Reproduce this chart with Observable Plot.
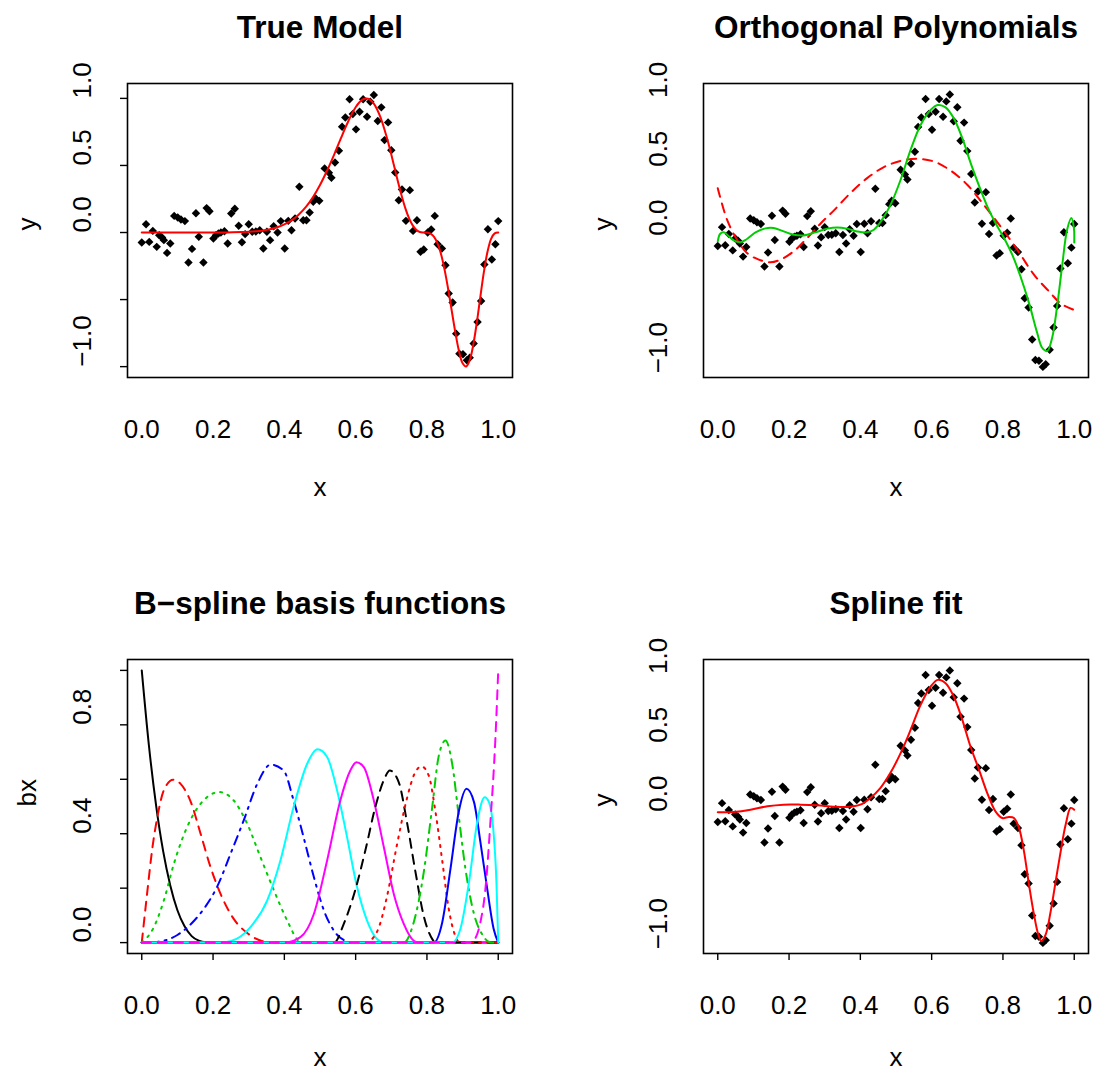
<!DOCTYPE html>
<html><head><meta charset="utf-8">
<script src="https://cdn.jsdelivr.net/npm/d3@7"></script>
<script src="https://cdn.jsdelivr.net/npm/@observablehq/plot@0.6"></script>
<style>
body{margin:0;background:#fff;}
#root{position:relative;width:1098px;height:1073px;overflow:hidden;background:#fff;}
.panel{position:absolute;}
</style></head><body><div id="root"></div>
<script>
// ---------- data ----------
const xPts = [0.000,0.012,0.021,0.031,0.042,0.049,0.057,0.062,0.071,0.080,0.091,0.101,0.110,0.121,0.131,0.141,0.152,0.160,0.173,0.182,0.190,0.201,0.208,0.215,0.222,0.232,0.241,0.251,0.261,0.272,0.281,0.290,0.300,0.310,0.320,0.331,0.341,0.351,0.360,0.370,0.381,0.390,0.401,0.411,0.420,0.430,0.442,0.453,0.462,0.471,0.481,0.488,0.498,
0.513,0.525,0.532,0.542,0.553,0.562,0.571,0.583,0.592,0.601,0.611,0.621,0.632,0.641,0.651,0.662,0.672,0.681,0.691,0.700,0.711,0.721,0.730,0.741,0.752,0.761,0.772,0.782,0.791,0.802,0.812,0.822,0.830,0.842,0.852,0.861,0.872,0.882,0.891,0.901,0.912,0.920,0.931,0.942,0.952,0.961,0.971,0.982,0.992,1.000];
const yPts = [-0.075,0.062,-0.070,0.012,-0.107,-0.020,-0.037,-0.057,-0.152,-0.082,0.124,0.112,0.097,0.085,-0.224,-0.122,0.144,-0.032,-0.224,0.182,0.159,-0.045,-0.020,-0.007,0.000,0.010,-0.082,0.142,0.177,0.050,-0.072,-0.012,0.062,0.005,0.007,0.017,-0.119,0.005,-0.057,0.047,0.000,0.085,-0.119,0.087,0.017,0.104,0.341,0.092,0.092,0.149,0.229,0.254,0.236,
0.478,0.445,0.408,0.522,0.609,0.789,0.858,0.993,0.883,0.769,0.900,0.993,0.863,0.975,1.025,0.831,0.933,0.689,0.821,0.614,0.448,0.241,0.321,0.087,0.316,0.012,0.092,-0.144,-0.127,0.000,0.022,0.124,-0.087,-0.119,-0.244,-0.455,-0.522,-0.754,-0.903,-0.908,-0.953,-0.933,-0.828,-0.667,-0.510,-0.239,0.025,-0.201,-0.087,0.085];

const trueX = [0,0.04,0.08,0.12,0.16,0.2,0.24,0.28,0.30,0.32,0.34,0.36,0.38,0.40,0.42,0.44,0.46,0.48,0.50,0.52,0.54,0.55,0.56,0.57,0.58,0.59,0.60,0.61,0.62,0.63,0.64,0.65,0.66,0.67,0.68,0.69,0.70,0.71,0.72,0.73,0.74,0.75,0.76,0.77,0.78,0.79,0.80,0.81,0.82,0.83,0.84,0.85,0.86,0.87,0.88,0.89,0.90,0.91,0.92,0.93,0.94,0.95,0.96,0.97,0.98,0.99,1.00];
const trueY = [0,0,0,0,0,0,0.001,0.003,0.005,0.009,0.015,0.024,0.039,0.060,0.090,0.133,0.189,0.262,0.354,0.462,0.583,0.648,0.711,0.774,0.833,0.888,0.934,0.969,0.992,1.000,0.991,0.964,0.919,0.856,0.776,0.684,0.581,0.473,0.365,0.265,0.176,0.105,0.053,0.020,0.004,0,0,-0.008,-0.032,-0.083,-0.166,-0.284,-0.429,-0.591,-0.750,-0.886,-0.975,-0.999,-0.952,-0.836,-0.669,-0.476,-0.290,-0.142,-0.047,-0.006,0];

const polyLowX = [0.0,0.026,0.054,0.082,0.115,0.148,0.176,0.213,0.251,0.288,0.326,0.372,0.419,0.466,0.513,0.559,0.606,0.653,0.700,0.746,0.793,0.840,0.887,0.933,0.962,1.0];
const polyLowY = [0.345,0.116,-0.029,-0.126,-0.174,-0.193,-0.174,-0.114,-0.017,0.087,0.184,0.309,0.418,0.498,0.543,0.558,0.539,0.473,0.370,0.225,0.067,-0.101,-0.283,-0.415,-0.493,-0.540];

const polyHighX = [0.0,0.007,0.017,0.031,0.045,0.064,0.082,0.106,0.134,0.157,0.185,0.213,0.241,0.274,0.307,0.335,0.363,0.391,0.419,0.438,0.461,0.485,0.513,0.541,0.569,0.597,0.617,0.639,0.662,0.686,0.709,0.733,0.756,0.779,0.803,0.826,0.849,0.873,0.896,0.910,0.924,0.938,0.952,0.966,0.980,0.992,0.999,1.0];
const polyHighY = [-0.041,0.014,0.024,-0.005,-0.034,-0.048,-0.024,0.024,0.053,0.055,0.031,0.007,0.002,0.024,0.051,0.060,0.051,0.031,0.024,0.043,0.116,0.225,0.406,0.623,0.804,0.913,0.949,0.932,0.853,0.708,0.531,0.362,0.213,0.092,-0.017,-0.138,-0.295,-0.488,-0.705,-0.814,-0.838,-0.742,-0.512,-0.222,0.043,0.128,0.056,-0.050];

const splineX = [0.0,0.045,0.092,0.139,0.185,0.232,0.279,0.325,0.363,0.400,0.428,0.456,0.484,0.513,0.541,0.569,0.597,0.617,0.639,0.662,0.686,0.709,0.733,0.756,0.779,0.798,0.817,0.831,0.845,0.859,0.873,0.887,0.899,0.908,0.920,0.934,0.948,0.962,0.976,0.990,1.0];
const splineY = [-0.005,-0.002,0.014,0.039,0.051,0.051,0.046,0.036,0.034,0.051,0.099,0.171,0.280,0.425,0.594,0.775,0.908,0.957,0.932,0.836,0.667,0.473,0.304,0.135,0.002,-0.046,-0.039,-0.046,-0.118,-0.288,-0.529,-0.746,-0.891,-0.940,-0.891,-0.722,-0.505,-0.288,-0.094,0.027,0.014];

// B-spline basis functions: [x, value] pairs
const basis1  = [[0,1],[0.02,0.725],[0.04,0.506],[0.06,0.336],[0.08,0.21],[0.10,0.119],[0.12,0.06],[0.14,0.024],[0.16,0.007],[0.18,0.001],[0.2,0],[1,0]];
const basis2  = [[0,0],[0.015,0.18],[0.03,0.35],[0.045,0.47],[0.062,0.56],[0.088,0.598],[0.109,0.583],[0.136,0.522],[0.165,0.40],[0.193,0.277],[0.221,0.179],[0.258,0.087],[0.296,0.035],[0.342,0.004],[0.36,0],[1,0]];
const basis3  = [[0,0],[0.034,0.057],[0.062,0.155],[0.09,0.289],[0.127,0.424],[0.165,0.51],[0.218,0.553],[0.258,0.522],[0.296,0.436],[0.333,0.314],[0.371,0.191],[0.408,0.081],[0.44,0.007],[0.455,0],[1,0]];
const basis4  = [[0,0],[0.05,0.004],[0.1,0.028],[0.15,0.085],[0.18,0.135],[0.211,0.204],[0.249,0.326],[0.286,0.449],[0.324,0.583],[0.362,0.654],[0.398,0.632],[0.426,0.522],[0.454,0.387],[0.483,0.24],[0.511,0.118],[0.539,0.044],[0.576,0.004],[0.59,0],[1,0]];
const basis5  = [[0,0],[0.22,0],[0.249,0.005],[0.305,0.057],[0.352,0.155],[0.389,0.302],[0.426,0.498],[0.464,0.657],[0.493,0.71],[0.52,0.682],[0.548,0.559],[0.576,0.387],[0.604,0.204],[0.632,0.081],[0.66,0.013],[0.68,0],[1,0]];
const basis6  = [[0,0],[0.40,0],[0.445,0.02],[0.483,0.106],[0.52,0.302],[0.557,0.522],[0.585,0.632],[0.602,0.663],[0.623,0.645],[0.651,0.522],[0.679,0.351],[0.707,0.179],[0.735,0.069],[0.763,0.007],[0.778,0],[1,0]];
const basis7  = [[0,0],[0.54,0],[0.567,0.07],[0.6,0.198],[0.628,0.343],[0.656,0.502],[0.68,0.6],[0.696,0.632],[0.721,0.589],[0.744,0.442],[0.768,0.258],[0.791,0.098],[0.815,0.013],[0.825,0],[1,0]];
const basis8  = [[0,0],[0.628,0],[0.66,0.04],[0.688,0.17],[0.716,0.36],[0.744,0.53],[0.765,0.62],[0.785,0.647],[0.805,0.614],[0.824,0.48],[0.843,0.30],[0.861,0.125],[0.878,0.03],[0.892,0],[1,0]];
const basis9  = [[0,0],[0.735,0],[0.763,0.075],[0.791,0.258],[0.815,0.5],[0.833,0.685],[0.852,0.742],[0.871,0.655],[0.889,0.467],[0.908,0.271],[0.932,0.105],[0.955,0.03],[0.975,0.002],[0.985,0],[1,0]];
const basis10 = [[0,0],[0.819,0],[0.843,0.075],[0.866,0.271],[0.889,0.479],[0.911,0.565],[0.932,0.516],[0.95,0.369],[0.969,0.198],[0.987,0.051],[1,0]];
const basis11 = [[0,0],[0.871,0],[0.894,0.051],[0.918,0.222],[0.941,0.442],[0.962,0.534],[0.974,0.516],[0.986,0.418],[0.995,0.22],[1,0]];
const basis12 = [[0,0],[0.92,0],[0.936,0.017],[0.95,0.075],[0.964,0.197],[0.978,0.442],[0.992,0.749],[1,1]];

const xTicks = [0, 0.2, 0.4, 0.6, 0.8, 1.0];
const yTicksFit = [-1, -0.5, 0, 0.5, 1];
const yLabelsFit = [-1, 0, 0.5, 1];
const yTicksBasis = [0, 0.2, 0.4, 0.6, 0.8, 1.0];
const yLabelsBasis = [0, 0.4, 0.8];
const titles = ["True Model", "Orthogonal Polynomials", "B\u2212spline basis functions", "Spline fit"];

// ---------- styles ----------
const FONT = '"Liberation Sans", Arial, Helvetica, sans-serif';
const basisColors = ["black","#FF0000","#00CD00","#0000FF","#00FFFF","#FF00FF","black","#FF0000","#00CD00","#0000FF","#00FFFF","#FF00FF"];
const DASH = "9,7", DOT = "2,6", DOTDASH = "2,6,9,6";
const basisDash = [null, DASH, DOT, DOTDASH, null, null, DASH, DOT, DOTDASH, null, null, DASH];

const pts = xPts.map((x, i) => ({x, y: yPts[i]}));
const zip = (xs, ys) => xs.map((x, i) => [x, ys[i]]);

const fmt1 = d => (d < 0 ? "\u2212" : "") + Math.abs(d).toFixed(1);

function makePanel(o) {
  const m = [...o.marks];
  m.push(Plot.frame({stroke: "black", strokeWidth: 1.6}));
  if (o.yTicks) m.push(Plot.axisY({ticks: o.yTicks, tickSize: 7, tickFormat: () => "", label: null, strokeWidth: 1.4}));
  if (o.xTickMarks) m.push(Plot.axisX({ticks: xTicks, tickSize: 7, tickFormat: () => "", label: null, strokeWidth: 1.4}));
  m.push(Plot.text(xTicks, {x: d => d, text: d => d.toFixed(1), frameAnchor: "bottom", dy: 52, lineAnchor: "middle", fontSize: 26}));
  m.push(Plot.text(o.yLabels, {y: d => d, text: fmt1, frameAnchor: "left", dx: -45, rotate: -90, lineAnchor: "middle", fontSize: 26}));
  m.push(Plot.text([o.title], {text: d => d, frameAnchor: "top", dy: -56, lineAnchor: "middle", fontSize: 31.5, fontWeight: "bold"}));
  m.push(Plot.text(["x"], {text: d => d, frameAnchor: "bottom", dy: o.xlabDy, lineAnchor: "middle", fontSize: 26}));
  m.push(Plot.text([o.ylab], {text: d => d, frameAnchor: "left", dx: -100, rotate: -90, lineAnchor: "middle", fontSize: 26}));
  const svg = Plot.plot({
    width: 549, height: o.height,
    marginLeft: o.ml, marginRight: o.mr, marginTop: 83, marginBottom: o.height - 377,
    x: {domain: [-0.04, 1.04], axis: null},
    y: {domain: o.yDomain, axis: null},
    style: {fontFamily: FONT, background: "transparent", overflow: "visible", color: "black"},
    marks: m
  });
  const div = document.createElement("div");
  div.className = "panel";
  div.style.left = o.left + "px";
  div.style.top = o.top + "px";
  div.appendChild(svg);
  document.getElementById("root").appendChild(div);
}

const dotMark = () => Plot.dot(pts, {x: "x", y: "y", symbol: "diamond2", fill: "black", r: 3.8});
const lineMark = (data, opts) => Plot.line(data, {x: d => d[0], y: d => d[1], strokeWidth: 2, ...opts});

// Top-left: True Model
makePanel({
  left: 0, top: 0, height: 576, ml: 127, mr: 37, xlabDy: 110,
  yDomain: [-1.081, 1.111], yTicks: yTicksFit, yLabels: yLabelsFit, xTickMarks: false,
  title: titles[0], ylab: "y",
  marks: [dotMark(), lineMark(zip(trueX, trueY), {stroke: "#FF0000", curve: "catmull-rom"})]
});

// Top-right: Orthogonal Polynomials
makePanel({
  left: 549, top: 0, height: 576, ml: 154, mr: 10, xlabDy: 110,
  yDomain: [-1.03, 1.105], yTicks: null, yLabels: yLabelsFit, xTickMarks: false,
  title: titles[1], ylab: "y",
  marks: [dotMark(),
    lineMark(zip(polyLowX, polyLowY), {stroke: "#FF0000", strokeDasharray: DASH, curve: "catmull-rom"}),
    lineMark(zip(polyHighX, polyHighY), {stroke: "#00CD00", curve: "catmull-rom"})]
});

// Bottom-left: B-spline basis functions
const basisAll = [basis1, basis2, basis3, basis4, basis5, basis6, basis7, basis8, basis9, basis10, basis11, basis12];
makePanel({
  left: 0, top: 576, height: 497, ml: 127, mr: 37, xlabDy: 104,
  yDomain: [-0.04, 1.04], yTicks: yTicksBasis, yLabels: yLabelsBasis, xTickMarks: true,
  title: titles[2], ylab: "bx",
  marks: basisAll.map((b, i) => lineMark(b, {stroke: basisColors[i], strokeDasharray: basisDash[i] || undefined, curve: "monotone-x"}))
});

// Bottom-right: Spline fit
makePanel({
  left: 549, top: 576, height: 497, ml: 154, mr: 10, xlabDy: 104,
  yDomain: [-1.03, 1.105], yTicks: null, yLabels: yLabelsFit, xTickMarks: true,
  title: titles[3], ylab: "y",
  marks: [dotMark(), lineMark(zip(splineX, splineY), {stroke: "#FF0000", curve: "catmull-rom"})]
});
</script>
</body></html>
